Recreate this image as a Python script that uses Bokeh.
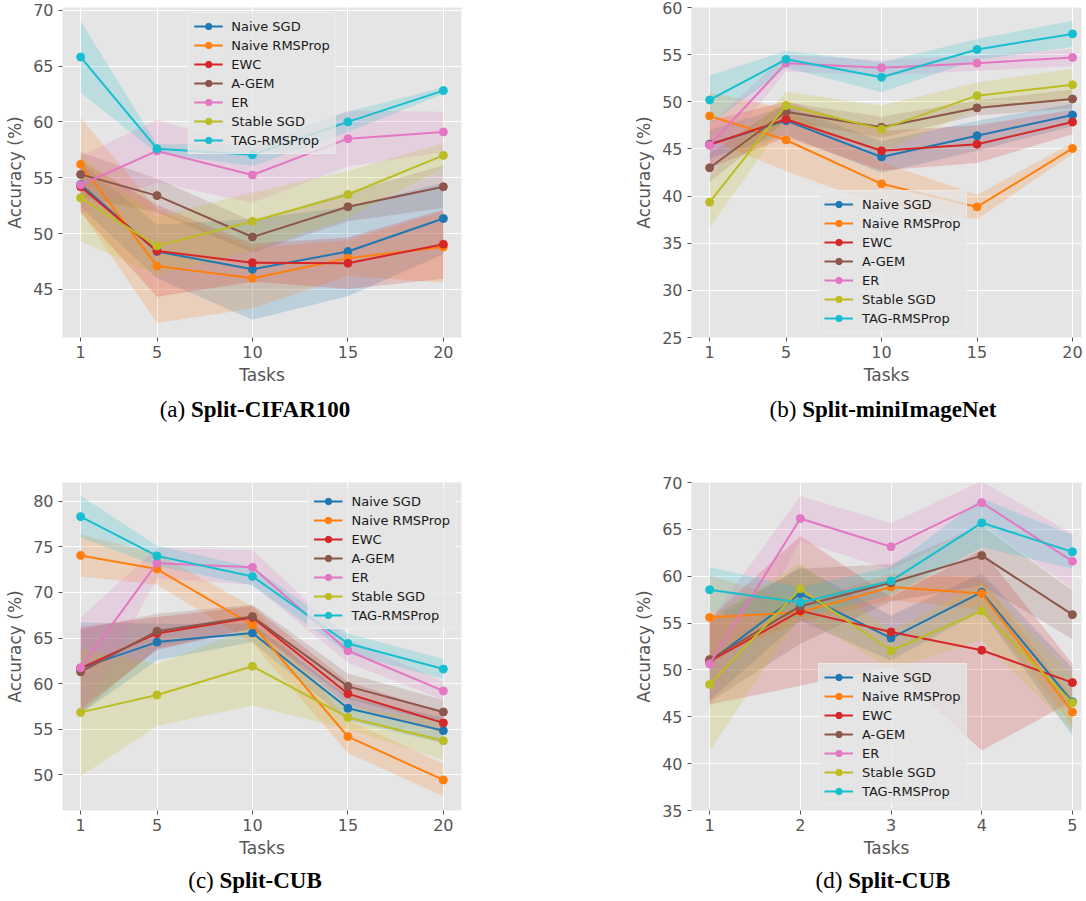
from bokeh.plotting import figure
from bokeh.models import Range1d, FixedTicker, Legend, LegendItem, Div, Spacer
from bokeh.layouts import row, column
from bokeh.embed import file_html
from bokeh.resources import INLINE

# ---------------- data ----------------
methods = ["Naive SGD", "Naive RMSProp", "EWC", "A-GEM", "ER", "Stable SGD", "TAG-RMSProp"]
colors = ["#1f77b4", "#ff7f0e", "#d62728", "#8c564b", "#e377c2", "#bcbd22", "#17becf"]

tasks_20 = [1, 5, 10, 15, 20]
tasks_5 = [1, 2, 3, 4, 5]

# (a) Split-CIFAR100  (rows follow `methods`)
cifar_mean = [
    [54.4, 48.4, 46.8, 48.4, 51.35],
    [56.2, 47.1, 46.0, 47.8, 48.8],
    [54.2, 48.45, 47.4, 47.35, 49.05],
    [55.3, 53.4, 49.7, 52.4, 54.2],
    [54.35, 57.4, 55.25, 58.5, 59.1],
    [53.2, 48.9, 51.1, 53.5, 57.0],
    [65.8, 57.6, 57.05, 60.0, 62.8],
]
cifar_std = [
    [2.0, 2.4, 4.5, 4.0, 3.2],
    [4.2, 5.1, 2.7, 1.6, 3.2],
    [2.3, 4.1, 1.7, 2.3, 3.1],
    [2.0, 1.5, 1.4, 1.3, 1.9],
    [2.6, 2.8, 2.5, 2.5, 1.8],
    [3.9, 2.6, 2.6, 2.1, 1.1],
    [3.2, 0.4, 1.0, 0.9, 0.3],
]

# (b) Split-miniImageNet
mini_mean = [
    [45.5, 48.0, 44.15, 46.4, 48.6],
    [48.5, 45.95, 41.3, 38.85, 45.05],
    [45.45, 48.15, 44.8, 45.5, 47.85],
    [43.0, 48.95, 47.3, 49.35, 50.3],
    [45.4, 54.1, 53.6, 54.1, 54.7],
    [39.35, 49.6, 47.1, 50.65, 51.8],
    [50.2, 54.5, 52.6, 55.55, 57.2],
]
mini_std = [
    [1.5, 1.5, 1.7, 1.6, 1.2],
    [2.5, 3.3, 2.3, 1.3, 0.6],
    [2.5, 1.9, 2.1, 2.0, 1.3],
    [1.5, 1.0, 1.1, 0.8, 1.0],
    [2.2, 0.9, 0.8, 0.8, 0.9],
    [2.7, 1.5, 2.5, 1.4, 1.7],
    [2.6, 0.9, 1.6, 1.1, 1.4],
]

# (c) Split-CUB (20 tasks)
cub20_mean = [
    [61.7, 64.55, 65.55, 57.3, 54.85],
    [74.05, 72.55, 66.45, 54.2, 49.45],
    [61.7, 65.5, 67.25, 58.9, 55.7],
    [61.3, 65.75, 67.35, 59.7, 56.9],
    [61.75, 73.2, 72.75, 63.6, 59.2],
    [56.85, 58.75, 61.9, 56.3, 53.75],
    [78.3, 74.0, 71.75, 64.4, 61.6],
]
cub20_std = [
    [5.0, 2.0, 1.0, 1.3, 1.4],
    [2.3, 1.7, 2.0, 1.8, 1.8],
    [4.5, 1.8, 1.2, 1.3, 1.1],
    [4.6, 1.9, 1.3, 1.4, 1.3],
    [5.5, 1.7, 1.9, 1.3, 1.0],
    [7.0, 3.4, 4.3, 1.3, 2.1],
    [2.3, 1.1, 1.0, 1.1, 1.1],
]

# (d) Split-CUB (5 tasks)
cub5_mean = [
    [50.9, 58.15, 53.4, 58.3, 46.6],
    [55.6, 56.15, 58.85, 58.15, 45.5],
    [50.9, 56.3, 54.05, 52.1, 48.65],
    [51.1, 56.8, 59.3, 62.2, 55.9],
    [50.65, 66.15, 63.15, 67.85, 61.6],
    [48.45, 58.65, 52.05, 56.3, 46.5],
    [58.55, 57.2, 59.5, 65.7, 62.6],
]
cub5_std = [
    [4.1, 2.9, 2.4, 2.0, 3.6],
    [4.5, 1.0, 1.4, 1.7, 1.5],
    [4.6, 8.0, 3.7, 10.7, 2.0],
    [4.5, 4.0, 2.0, 3.2, 2.6],
    [4.6, 2.4, 2.5, 2.3, 2.9],
    [7.1, 2.8, 2.0, 3.1, 3.0],
    [2.4, 1.6, 1.5, 2.6, 1.8],
]

ticks_a = [45, 50, 55, 60, 65, 70]
ticks_b = [25, 30, 35, 40, 45, 50, 55, 60]
ticks_c = [50, 55, 60, 65, 70, 75, 80]
ticks_d = [35, 40, 45, 50, 55, 60, 65, 70]

GRAY = "#555555"


def panel(x, means, stds, xr, yr, yticks, fw, fh, mb_left, mb_top, mb_bottom, mb_right, legend_loc):
    p = figure(frame_width=fw, frame_height=fh,
               x_range=Range1d(*xr), y_range=Range1d(*yr),
               output_backend="svg", toolbar_location=None,
               min_border_left=mb_left, min_border_right=mb_right,
               min_border_top=mb_top, min_border_bottom=mb_bottom,
               background_fill_color="#E5E5E5", border_fill_color="white",
               outline_line_color=None)
    for c, mu, sd in zip(colors, means, stds):
        lo = [m - s for m, s in zip(mu, sd)]
        hi = [m + s for m, s in zip(mu, sd)]
        p.varea(x=x, y1=lo, y2=hi, fill_color=c, fill_alpha=0.2)
    items = []
    for name, c, mu in zip(methods, colors, means):
        r1 = p.line(x, mu, line_color=c, line_width=2)
        r2 = p.scatter(x, mu, size=8, fill_color=c, line_color=c)
        items.append(LegendItem(label=name, renderers=[r1, r2]))

    p.xaxis.ticker = FixedTicker(ticks=x)
    p.yaxis.ticker = FixedTicker(ticks=yticks)
    p.xaxis.axis_label = "Tasks"
    p.yaxis.axis_label = "Accuracy (%)"
    for ax in (p.xaxis[0], p.yaxis[0]):
        ax.axis_line_color = None
        ax.major_tick_line_color = GRAY
        ax.major_tick_out = 4
        ax.major_tick_in = 0
        ax.minor_tick_line_color = None
        ax.major_label_text_font = "DejaVu Sans"
        ax.major_label_text_font_size = "16px"
        ax.major_label_text_color = GRAY
        ax.axis_label_text_font = "DejaVu Sans"
        ax.axis_label_text_font_size = "17px"
        ax.axis_label_text_color = GRAY
        ax.axis_label_text_font_style = "normal"
    p.xaxis.major_label_standoff = 4
    p.xaxis.axis_label_standoff = 4
    p.yaxis.major_label_standoff = 5
    p.yaxis.axis_label_standoff = 5
    p.grid.grid_line_color = "white"
    p.grid.grid_line_width = 1

    legend = Legend(items=items, location=legend_loc, margin=5,
                    label_text_font="DejaVu Sans", label_text_font_size="13px",
                    label_text_color="#1a1a1a",
                    glyph_width=29, glyph_height=16, label_height=16,
                    spacing=3, padding=5, label_standoff=9,
                    background_fill_color="#E5E5E5", background_fill_alpha=0.8,
                    border_line_color="#f2f2f2", border_line_width=1)
    p.add_layout(legend)
    return p


pa = panel(tasks_20, cifar_mean, cifar_std, (0.05, 20.95), (40.7, 70.24), ticks_a,
           399, 330, 62, 7, 60, 170, "top_center")
pb = panel(tasks_20, mini_mean, mini_std, (0.05, 20.47), (25, 60), ticks_b,
           390, 330, 0, 7, 60, 3, (127, 5))
pc = panel(tasks_20, cub20_mean, cub20_std, (0.05, 20.95), (46.1, 82.04), ticks_c,
           399, 328, 62, 59, 58, 170, "top_right")
pd = panel(tasks_5, cub5_mean, cub5_std, (0.8, 5.1), (35, 70), ticks_d,
           390, 328, 0, 59, 58, 3, (127, 5))


def caption(letter, name, w):
    html = ('<div style="width:%dpx;text-align:center;font-family:\'Liberation Serif\',\'Times New Roman\',serif;'
            'font-size:23px;line-height:26px;color:#000;white-space:nowrap">(%s) <b>%s</b></div>') % (w, letter, name)
    return Div(text=html, width=w, height=26, margin=0)


cap_row1 = row(caption("a", "Split-CIFAR100", 510), Spacer(width=170, height=26, margin=0),
               caption("b", "Split-miniImageNet", 406), spacing=0)
cap_row2 = row(caption("c", "Split-CUB", 510), Spacer(width=170, height=26, margin=0),
               caption("d", "Split-CUB", 406), spacing=0)

layout = column(row(pa, pb, spacing=0), cap_row1, row(pc, pd, spacing=0), cap_row2, spacing=0)

with open("out.html", "w") as f:
    f.write(file_html(layout, INLINE))
